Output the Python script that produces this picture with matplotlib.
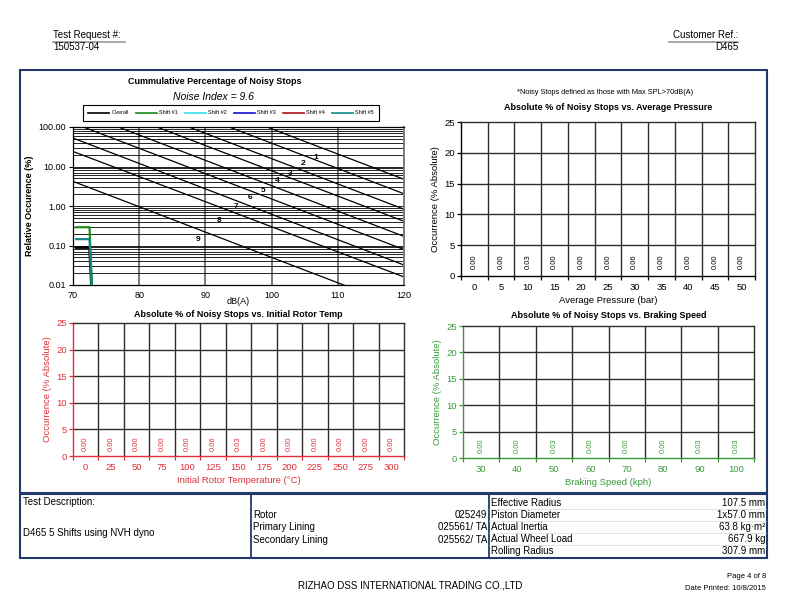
import numpy as np
import matplotlib
matplotlib.use("Agg")
import matplotlib.pyplot as plt
from matplotlib.lines import Line2D
from matplotlib.patches import Rectangle

plt.rcParams['font.family'] = ['Liberation Sans', 'DejaVu Sans']

W, H = 792, 610

# ---------------- data ----------------
# Cumulative percentage chart: noise-index reference lines (value at 70 dB and 120 dB)
ni_ids = ['1', '2', '3', '4', '5', '6', '7', '8', '9']
ni_at70 = [7516, 3236, 1318, 646, 275, 126, 52.5, 24.0, 4.2]
ni_at120 = [4.74, 2.04, 0.83, 0.41, 0.17, 0.079, 0.032, 0.016, 0.0026]
ni_label_x = [106.7, 104.7, 102.8, 100.8, 98.7, 96.8, 94.6, 92.1, 88.9]
ni_label_y = [17.1, 12.0, 6.7, 4.3, 2.5, 1.6, 1.0, 0.42, 0.145]

cum_db = [70.5, 71.5, 72.5, 73.0]
cum_overall = [0.089, 0.089, 0.089, 0.002]
cum_shift1 = [0.29, 0.29, 0.29, 0.002]
cum_shift2 = []
cum_shift3 = []
cum_shift4 = []
cum_shift5 = [0.145, 0.145, 0.145, 0.002]
series_names = ['Overall', 'Shift #1', 'Shift #2', 'Shift #3', 'Shift #4', 'Shift #5']
series_colors = ['#000000', '#1a8c1a', '#33e0f0', '#1010d0', '#b01010', '#108888']
noise_index = 9.6

pressure_cats = ['0', '5', '10', '15', '20', '25', '30', '35', '40', '45', '50']
pressure_vals = [0.00, 0.00, 0.03, 0.00, 0.00, 0.00, 0.06, 0.00, 0.00, 0.00, 0.00]

temp_cats = ['0', '25', '50', '75', '100', '125', '150', '175', '200', '225', '250', '275', '300']
temp_vals = [0.00, 0.00, 0.00, 0.00, 0.00, 0.06, 0.03, 0.00, 0.00, 0.00, 0.00, 0.00, 0.00]

speed_cats = ['30', '40', '50', '60', '70', '80', '90', '100']
speed_vals = [0.00, 0.00, 0.03, 0.00, 0.00, 0.00, 0.03, 0.03]

# ---------------- figure ----------------
fig = plt.figure(figsize=(W / 100, H / 100), dpi=100)


def rect(l, t, r, b):
    return [l / W, 1 - b / H, (r - l) / W, (b - t) / H]


def T(x, y, s, **kw):
    kw.setdefault('va', 'center')
    return fig.text(x / W, 1 - y / H, s, **kw)


def L(xs, ys, **kw):
    fig.add_artist(Line2D([x / W for x in xs], [1 - y / H for y in ys],
                          transform=fig.transFigure, **kw))


GRID = '#2e2e2e'

# ---------- top-left: cumulative chart ----------
ax = fig.add_axes(rect(73, 127, 404, 285))
ax.set_yscale('log')
ax.set_xlim(70, 120)
ax.set_ylim(0.01, 100)
ax.yaxis.grid(True, which='both', color='black', lw=0.6)
for xv in [80, 90, 100, 110]:
    ax.axvline(xv, color='#7a7a7a', lw=1.4, zorder=1)
for a, b in zip(ni_at70, ni_at120):
    ax.plot([70, 120], [a, b], color='black', lw=0.9, zorder=2)
for s, lx, ly in zip(ni_ids, ni_label_x, ni_label_y):
    ax.text(lx, ly, s, fontsize=6, fontweight='bold', ha='center', va='center', zorder=3)
all_series = [cum_overall, cum_shift1, cum_shift2, cum_shift3, cum_shift4, cum_shift5]
handles = []
for name, col, vals in zip(series_names, series_colors, all_series):
    xs = cum_db[:len(vals)]
    h, = ax.plot(xs, vals, color=col, lw=1.6 if name != 'Overall' else 2.0, label=name, zorder=4)
    handles.append(h)
ax.set_yticks([0.01, 0.1, 1, 10, 100])
ax.set_yticklabels(['0.01', '0.10', '1.00', '10.00', '100.00'])
ax.set_xticks([70, 80, 90, 100, 110, 120])
ax.tick_params(axis='y', which='minor', length=0)
ax.tick_params(axis='both', which='major', labelsize=6.5, length=3, pad=2)
ax.tick_params(axis='x', length=0, pad=4)
ax.spines['right'].set_color('#7a7a7a')
ax.spines['right'].set_linewidth(1.4)
for sp in ['left', 'bottom', 'top']:
    ax.spines[sp].set_linewidth(0.9)
ax.set_xlabel('dB(A)', fontsize=6.5, labelpad=-1.5)
ax.set_ylabel('Relative Occurence (%)', fontsize=6.5, fontweight='bold', labelpad=3)
T(215, 82, 'Cummulative Percentage of Noisy Stops', fontsize=6.5, fontweight='bold', ha='center')
T(213, 97, 'Noise Index = %.1f' % noise_index, fontsize=7.5, style='italic', ha='center')
leg = fig.legend(handles=handles, loc='center', ncol=6, mode='expand',
                 bbox_to_anchor=(80 / W, 1 - 123 / H, 302 / W, 20 / H),
                 fontsize=4.0, handlelength=3.8, handletextpad=0.4, columnspacing=1.5,
                 fancybox=False, edgecolor='black', framealpha=1, borderpad=1.0)
leg.get_frame().set_linewidth(0.8)
for lh in leg.get_lines():
    lh.set_linewidth(1.2)


# ---------- bar panels ----------
def bar_panel(r, cats, vals, color, title, title_y, xlabel, ylabel):
    a = fig.add_axes(r)
    n = len(cats)
    x = np.arange(n)
    a.bar(x, vals, width=0.6, color=color, zorder=3)
    a.set_xlim(-0.5, n - 0.5)
    a.set_ylim(0, 25)
    for yv in [5, 10, 15, 20]:
        a.axhline(yv, color=GRID, lw=1.0, zorder=1)
    for xv in np.arange(0.5, n - 0.5, 1.0):
        a.axvline(xv, color=GRID, lw=1.0, zorder=1)
    a.set_yticks(range(0, 26, 5))
    a.set_xticks(x)
    a.set_xticklabels(cats)
    a.set_xticks(np.arange(-0.5, n, 1.0), minor=True)
    a.tick_params(axis='x', which='major', length=0, labelsize=6.8, colors=color, pad=5)
    a.tick_params(axis='x', which='minor', length=3, color=color, width=0.9)
    a.tick_params(axis='y', length=3, labelsize=6.8, colors=color, pad=1.5, width=0.9)
    for sp in ['left', 'bottom']:
        a.spines[sp].set_color(color)
        a.spines[sp].set_linewidth(1.0)
    for sp in ['top', 'right']:
        a.spines[sp].set_color(GRID)
        a.spines[sp].set_linewidth(1.0)
    for xi, v in zip(x, vals):
        a.text(xi, 2.3, '%.2f' % v, rotation=90, ha='center', va='center',
               fontsize=5.5, color=color, zorder=4)
    a.set_xlabel(xlabel, fontsize=6.8, color=color, labelpad=3)
    a.set_ylabel(ylabel, fontsize=6.8, color=color, labelpad=3)
    cx = (r[0] + r[2] / 2) * W
    T(cx, title_y, title, fontsize=6.5, fontweight='bold', ha='center')
    return a


bar_panel(rect(461, 122, 755, 276), pressure_cats, pressure_vals, 'black',
          'Absolute % of Noisy Stops vs. Average Pressure', 107.5,
          'Average Pressure (bar)', 'Occurrence (% Absolute)')
T(605, 93, '*Noisy Stops defined as those with Max SPL>70dB(A)', fontsize=5.3, ha='center')

bar_panel(rect(73, 323, 404, 456), temp_cats, temp_vals, '#e0303a',
          'Absolute % of Noisy Stops vs. Initial Rotor Temp', 314.5,
          'Initial Rotor Temperature (°C)', 'Occurrence (% Absolute)')

bar_panel(rect(463, 326, 754, 458), speed_cats, speed_vals, '#3a9a3a',
          'Absolute % of Noisy Stops vs. Braking Speed', 315,
          'Braking Speed (kph)', 'Occurrence (% Absolute)')

# ---------- page frame & table ----------
NAVY = '#24396b'
fig.add_artist(Rectangle((20 / W, 1 - 493 / H), 747 / W, 423 / H, transform=fig.transFigure,
                         fill=False, edgecolor=NAVY, lw=1.5))
fig.add_artist(Rectangle((20 / W, 1 - 558 / H), 747 / W, 64 / H, transform=fig.transFigure,
                         fill=False, edgecolor=NAVY, lw=1.5))
L([251, 251], [494, 558], color=NAVY, lw=1.3)
L([488.5, 488.5], [494, 558], color=NAVY, lw=1.3)
for yy in [508.5, 520.5, 532.5, 544.5]:
    L([489, 766], [yy, yy], color='#d8d8d8', lw=0.5)

FS = 7
T(23, 502, 'Test Description:', fontsize=FS)
T(23, 533, 'D465 5 Shifts using NVH dyno', fontsize=FS)
left_names = ['Rotor', 'Primary Lining', 'Secondary Lining']
left_vals = ['025249', '025561/ TA', '025562/ TA']
for i, (nm, v) in enumerate(zip(left_names, left_vals)):
    yy = 515 + 12.3 * i
    T(253, yy, nm, fontsize=FS)
    T(487, yy, v, fontsize=FS, ha='right')
right_names = ['Effective Radius', 'Piston Diameter', 'Actual Inertia', 'Actual Wheel Load', 'Rolling Radius']
right_vals = ['107.5 mm', '1x57.0 mm', '63.8 kg·m²', '667.9 kg', '307.9 mm']
for i, (nm, v) in enumerate(zip(right_names, right_vals)):
    yy = 502.5 + 12.2 * i
    T(491, yy, nm, fontsize=FS)
    T(765, yy, v, fontsize=FS, ha='right')

# ---------- header & footer ----------
T(53, 35.5, 'Test Request #:', fontsize=FS)
L([53, 125], [41.5, 41.5], color='#999999', lw=1.2)
T(53, 47.5, '150537-04', fontsize=FS)
T(738, 35.5, 'Customer Ref.:', fontsize=FS, ha='right')
L([669, 738], [41.5, 41.5], color='#999999', lw=1.2)
T(738, 47.5, 'D465', fontsize=FS, ha='right')

T(410, 585, 'RIZHAO DSS INTERNATIONAL TRADING CO.,LTD', fontsize=7, ha='center')
T(766, 577, 'Page 4 of 8', fontsize=5.5, ha='right')
T(766, 588, 'Date Printed: 10/8/2015', fontsize=5.5, ha='right')

fig.savefig('out.png', dpi=100)
